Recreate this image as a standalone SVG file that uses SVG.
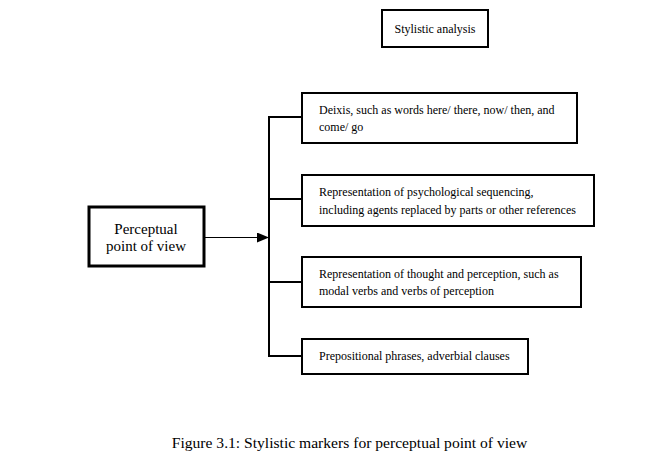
<svg xmlns="http://www.w3.org/2000/svg" width="671" height="460" viewBox="0 0 671 460">
<defs>
<style>
.box{fill:#fff;stroke:#000;stroke-width:2}
text{font-family:'Liberation Serif','DejaVu Serif','Times New Roman',serif;font-size:12px;fill:#000}
text.big{font-size:15px}
text.cap{font-size:15.6px}
.c{fill:none;stroke:#000;stroke-width:2}
</style>
<marker id="ah" markerWidth="12" markerHeight="10" refX="11" refY="5" orient="auto" markerUnits="userSpaceOnUse">
<path d="M0,0 L12,5 L0,10 Z" fill="#000"/>
</marker>
</defs>
<rect width="671" height="460" fill="#fff"/>
<g id="connectors">
<line x1="205" y1="237.5" x2="268" y2="237.5" stroke="#000" stroke-width="1" marker-end="url(#ah)"/>
<path class="c" d="M302,117 H269 V356 H302 M269,199 H302 M269,282 H302"/>
</g>
<g id="stylistic-analysis">
<rect class="box" x="382" y="10" width="106" height="37"/>
<text x="435" y="33" text-anchor="middle">Stylistic analysis</text>
</g>
<g id="perceptual">
<rect x="89" y="207" width="115" height="59" fill="#fff" stroke="#000" stroke-width="3"/>
<text class="big" x="146" y="234" text-anchor="middle">Perceptual</text>
<text class="big" x="146" y="251" text-anchor="middle">point of view</text>
</g>
<g id="deixis">
<rect class="box" x="302" y="93" width="275" height="50"/>
<text x="319" y="114">Deixis, such as words here/ there, now/ then, and</text>
<text x="319" y="131">come/ go</text>
</g>
<g id="psych">
<rect class="box" x="302" y="175" width="292" height="51"/>
<text x="319" y="196">Representation of psychological sequencing,</text>
<text x="319" y="214">including agents replaced by parts or other references</text>
</g>
<g id="thought">
<rect class="box" x="302" y="257" width="279" height="50"/>
<text x="319" y="278">Representation of thought and perception, such as</text>
<text x="319" y="295">modal verbs and verbs of perception</text>
</g>
<g id="prep">
<rect class="box" x="302" y="339" width="226" height="35"/>
<text x="319" y="360">Prepositional phrases, adverbial clauses</text>
</g>
<text class="cap" x="349.5" y="448" text-anchor="middle">Figure 3.1: Stylistic markers for perceptual point of view</text>
</svg>
